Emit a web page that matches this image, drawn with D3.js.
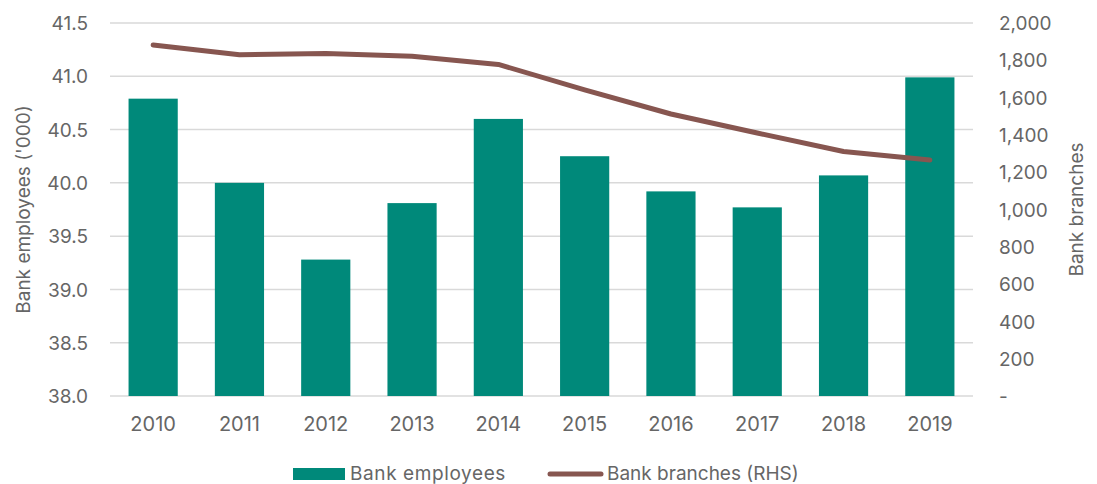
<!DOCTYPE html>
<html>
<head>
<meta charset="utf-8">
<script src="https://cdn.jsdelivr.net/npm/d3@7"></script>
<style>
    body { margin: 0; background: #fff; }
    svg text { font-family: Inter, "Liberation Sans", Arial, sans-serif; fill: #666; }
</style>
</head>
<body>
<div id="chart"></div>
<script>
const years = ['2010', '2011', '2012', '2013', '2014', '2015', '2016', '2017', '2018', '2019'];
const employees = [40.79, 40.0, 39.28, 39.81, 40.60, 40.25, 39.92, 39.77, 40.07, 40.99];
const branches = [1882, 1830, 1836, 1822, 1778, 1641, 1512, 1410, 1311, 1265];
const leftTicks = [38.0, 38.5, 39.0, 39.5, 40.0, 40.5, 41.0, 41.5];
const rightTicks = [0, 200, 400, 600, 800, 1000, 1200, 1400, 1600, 1800, 2000];

const WIDTH = 1097, HEIGHT = 484;
const PLOT_LEFT = 110, PLOT_RIGHT = 973;
const PLOT_TOP = 23, PLOT_BOTTOM = 396;

const BAR_COLOR = '#00897a';
const LINE_COLOR = '#875650';
const GRID_COLOR = '#d9d9d9';
const FONT_SIZE = 19;

const svg = d3.select('#chart')
    .append('svg')
        .attr('width', WIDTH)
        .attr('height', HEIGHT);

const x = d3.scaleBand()
    .domain(years)
    .range([PLOT_LEFT, PLOT_RIGHT])
    .paddingInner(0.43)
    .paddingOuter(0.215);

const yLeft = d3.scaleLinear()
    .domain([38, 41.5])
    .range([PLOT_BOTTOM, PLOT_TOP]);

const yRight = d3.scaleLinear()
    .domain([0, 2000])
    .range([PLOT_BOTTOM, PLOT_TOP]);

// gridlines
svg.append('g')
    .selectAll('line')
    .data(leftTicks)
    .enter().append('line')
        .attr('x1', PLOT_LEFT)
        .attr('x2', PLOT_RIGHT)
        .attr('y1', d => yLeft(d))
        .attr('y2', d => yLeft(d))
        .attr('stroke', GRID_COLOR)
        .attr('stroke-width', 1.5);

// left axis
const leftAxis = d3.axisLeft(yLeft)
    .tickValues(leftTicks)
    .tickFormat(d3.format('.1f'))
    .tickSize(0)
    .tickPadding(0);

svg.append('g')
    .attr('transform', `translate(88, 0)`)
    .call(leftAxis)
    .call(g => g.select('.domain').remove())
    .selectAll('text')
        .attr('font-size', FONT_SIZE)
        .attr('dy', '0.35em');

// right axis, zero shown as a dash
const rightFormat = d => d === 0 ? '-' : d3.format(',')(d);
const rightAxis = d3.axisRight(yRight)
    .tickValues(rightTicks)
    .tickFormat(rightFormat)
    .tickSize(0)
    .tickPadding(0);

svg.append('g')
    .attr('transform', `translate(999, 0)`)
    .call(rightAxis)
    .call(g => g.select('.domain').remove())
    .selectAll('text')
        .attr('font-size', FONT_SIZE)
        .attr('dy', '0.35em');

// x axis labels
const xAxis = d3.axisBottom(x)
    .tickSize(0)
    .tickPadding(0);

svg.append('g')
    .attr('transform', `translate(0, 417)`)
    .call(xAxis)
    .call(g => g.select('.domain').remove())
    .selectAll('text')
        .attr('font-size', 20)
        .attr('dy', '0.71em');

// bars
svg.append('g')
    .selectAll('rect')
    .data(years)
    .enter().append('rect')
        .attr('x', d => x(d))
        .attr('width', x.bandwidth())
        .attr('y', (d, i) => yLeft(employees[i]))
        .attr('height', (d, i) => PLOT_BOTTOM - yLeft(employees[i]))
        .attr('fill', BAR_COLOR);

// line
const line = d3.line()
    .x((d, i) => x(years[i]) + x.bandwidth() / 2)
    .y(d => yRight(d));

svg.append('path')
    .datum(branches)
    .attr('d', line)
    .attr('fill', 'none')
    .attr('stroke', LINE_COLOR)
    .attr('stroke-width', 5)
    .attr('stroke-linecap', 'round')
    .attr('stroke-linejoin', 'round');

// axis titles
svg.append('text')
    .attr('transform', `translate(30, ${(PLOT_TOP + PLOT_BOTTOM) / 2}) rotate(-90)`)
    .attr('text-anchor', 'middle')
    .attr('font-size', FONT_SIZE)
    .text("Bank employees ('000)");

svg.append('text')
    .attr('transform', `translate(1083, ${(PLOT_TOP + PLOT_BOTTOM) / 2}) rotate(-90)`)
    .attr('text-anchor', 'middle')
    .attr('font-size', FONT_SIZE)
    .text('Bank branches');

// legend
const legend = svg.append('g');
legend.append('rect')
    .attr('x', 293)
    .attr('y', 468)
    .attr('width', 52)
    .attr('height', 12)
    .attr('fill', BAR_COLOR);
legend.append('text')
    .attr('x', 350)
    .attr('y', 480)
    .attr('font-size', FONT_SIZE)
    .attr('letter-spacing', 0.6)
    .text('Bank employees');

legend.append('line')
    .attr('x1', 550)
    .attr('x2', 601)
    .attr('y1', 474)
    .attr('y2', 474)
    .attr('stroke', LINE_COLOR)
    .attr('stroke-width', 5)
    .attr('stroke-linecap', 'round');
legend.append('text')
    .attr('x', 607)
    .attr('y', 480)
    .attr('font-size', FONT_SIZE)
    .text('Bank branches (RHS)');
</script>
</body>
</html>
